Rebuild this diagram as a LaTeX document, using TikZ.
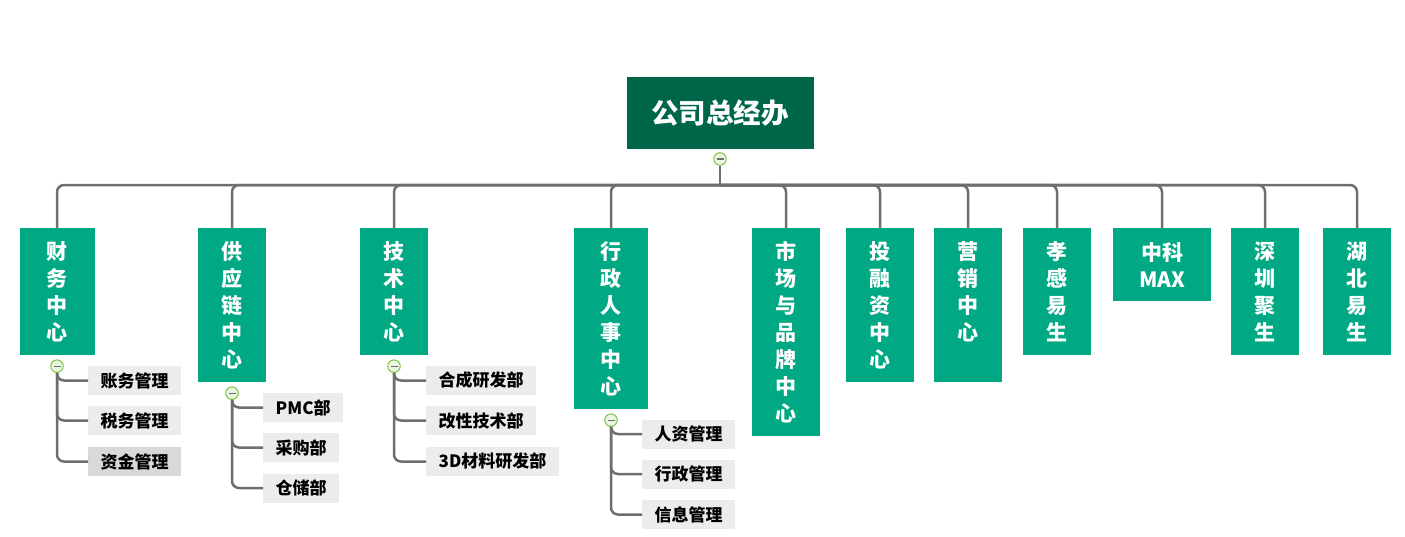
\documentclass[tikz,border=0pt]{standalone}
\usepackage{fontspec}
\setmainfont{Noto Sans CJK SC}
\usetikzlibrary{positioning}

\definecolor{rootgreen}{HTML}{00664A}
\definecolor{deptgreen}{HTML}{00A884}
\definecolor{linkgray}{HTML}{6E6E6E}
\definecolor{knobgreen}{HTML}{7DC242}
\definecolor{subgray}{HTML}{ECECEC}
\definecolor{subdark}{HTML}{D9D9D9}

\begin{document}
\begin{tikzpicture}[
  x=1pt, y=-1pt,
  rootbox/.style={fill=rootgreen,text=white,font=\fontsize{27.5}{30}\selectfont\bfseries,
    minimum width=187pt,minimum height=72pt,inner sep=0pt},
  dept/.style={fill=deptgreen,text=white,font=\fontsize{21}{27}\selectfont\bfseries,
    align=center,minimum width=68pt,inner sep=0pt,anchor=north},
  subbox/.style={fill=subgray,font=\fontsize{17}{18}\selectfont\bfseries,
    inner xsep=12.5pt,inner ysep=0pt,minimum height=29pt,anchor=west},
  knob/.style={circle,draw=knobgreen,fill=knobgreen!15,line width=1pt,minimum size=12.5pt,inner sep=0pt,
    path picture={\draw[linkgray,line width=1.2pt]
      ([xshift=-3.5pt]path picture bounding box.center) -- ([xshift=3.5pt]path picture bounding box.center);}},
  link/.style={draw=linkgray,line width=2.5pt,rounded corners=7pt}
]
  \useasboundingbox (0,0) rectangle (1405,536);

  \node[rootbox] (root) at (720,113) {公司总经办};
  \coordinate (hub) at (720,185);

  % centres
  \node[dept,minimum width=75pt,minimum height=127pt] (cw) at (57,228) {财\\务\\中\\心};
  \node[dept,minimum height=154pt] (gy) at (232,228) {供\\应\\链\\中\\心};
  \node[dept,minimum height=127pt] (js) at (394,228) {技\\术\\中\\心};
  \node[dept,minimum width=74pt,minimum height=181pt] (xz) at (611,228) {行\\政\\人\\事\\中\\心};
  \node[dept,minimum height=208pt] (sc) at (786,228) {市\\场\\与\\品\\牌\\中\\心};
  \node[dept,minimum height=154pt] (trz) at (880,228) {投\\融\\资\\中\\心};
  \node[dept,minimum height=154pt] (yx) at (968,228) {营\\销\\中\\心\\\phantom{心}};
  \node[dept,minimum height=127pt] (xg) at (1057,228) {孝\\感\\易\\生};
  \node[dept,minimum width=98pt,minimum height=73pt] (zk) at (1162,228) {中科\\MAX};
  \node[dept,minimum height=127pt] (sz) at (1265,228) {深\\圳\\聚\\生};
  \node[dept,minimum height=127pt] (hb) at (1357,228) {湖\\北\\易\\生};

  % departments
  \node[subbox] (cw1) at (88,380.5) {账务管理};
  \node[subbox] (cw2) at (88,420.5) {税务管理};
  \node[subbox,fill=subdark] (cw3) at (88,461.5) {资金管理};
  \node[subbox] (gy1) at (263,407.5) {PMC部};
  \node[subbox] (gy2) at (263,447.5) {采购部};
  \node[subbox] (gy3) at (263,488) {仓储部};
  \node[subbox] (js1) at (426,380.5) {合成研发部};
  \node[subbox] (js2) at (426,420.5) {改性技术部};
  \node[subbox] (js3) at (426,461.5) {3D材料研发部};
  \node[subbox] (xz1) at (642,434) {人资管理};
  \node[subbox] (xz2) at (642,474) {行政管理};
  \node[subbox] (xz3) at (642,514.5) {信息管理};

  \node[knob,below=3pt of root] (rootk) {};
  \foreach \d in {cw,gy,js,xz}
    \node[knob,below=4pt of \d] (\d k) {};

  \draw[link] (rootk.south) -- (hub);
  \foreach \d in {cw,gy,js,xz,sc,trz,yx,xg,zk,sz,hb}
    \draw[link] (hub) -| (\d.north);
  \foreach \d in {cw,gy,js,xz}
    \foreach \i in {1,2,3}
      \draw[link] (\d k.south) |- (\d\i.west);
\end{tikzpicture}
\end{document}
